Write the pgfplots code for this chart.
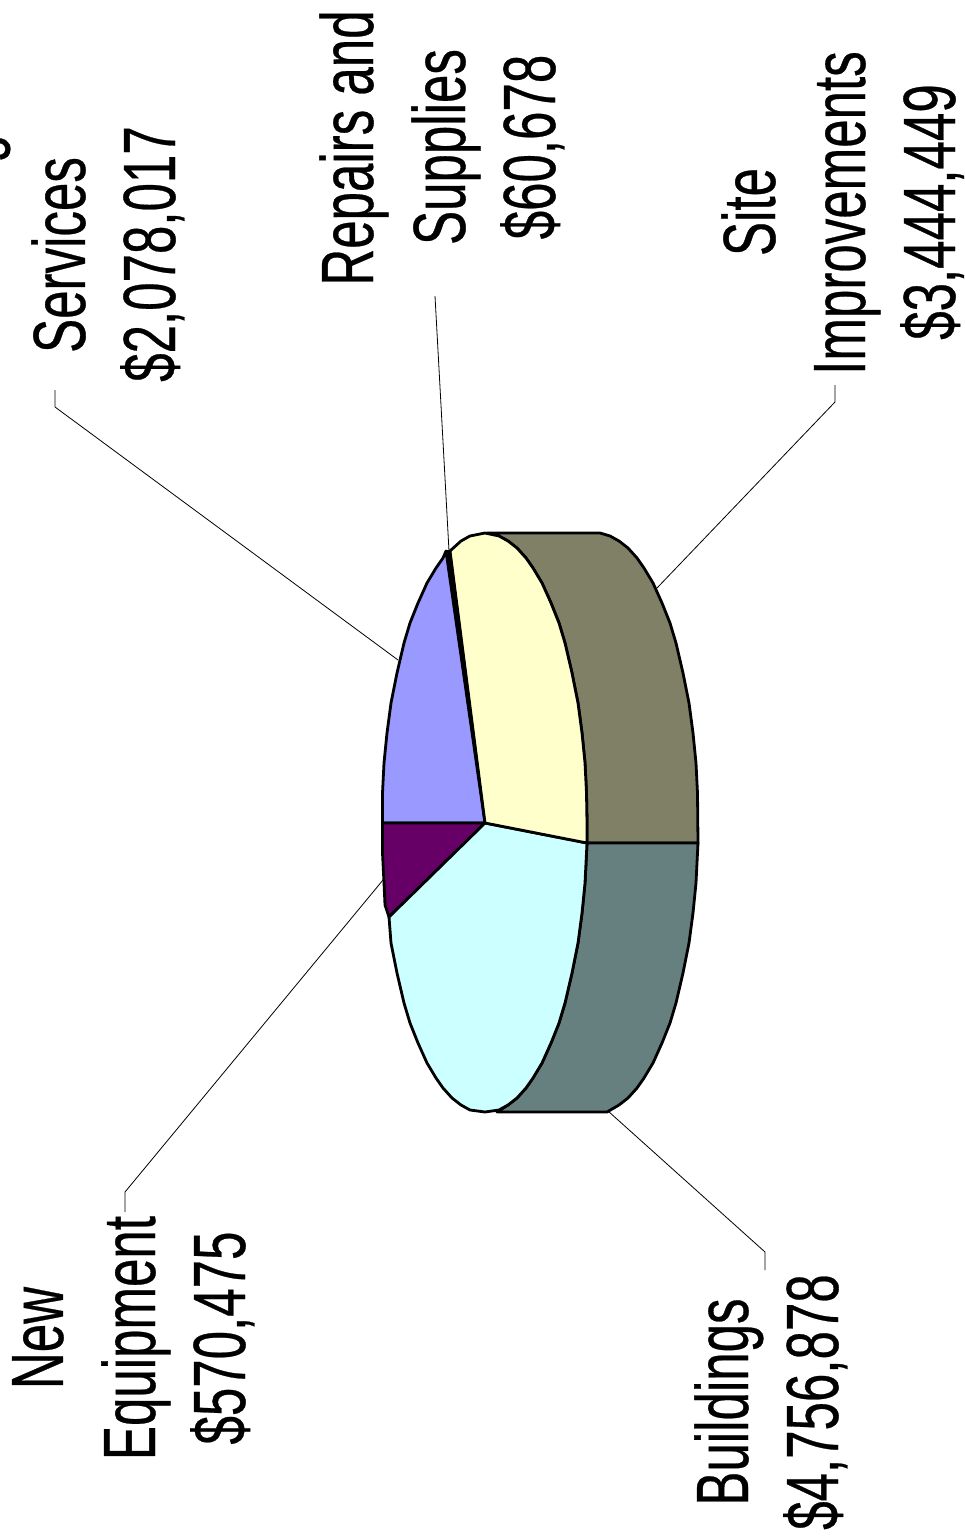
\documentclass[border=0pt]{standalone}
\usepackage{fontspec}
\setmainfont[FakeBold=0.5]{Liberation Sans}
\usepackage{graphicx}
\usepackage{pgfplots}
\pgfplotsset{compat=1.18}
\definecolor{slicecyan}{HTML}{CCFFFF}
\definecolor{sliceyellow}{HTML}{FFFFCC}
\definecolor{sliceblue}{HTML}{9999FF}
\definecolor{slicepurple}{HTML}{660066}
\definecolor{sideolive}{HTML}{808066}
\definecolor{sideteal}{HTML}{668080}
% rotated label, x = baseline, y = middle of the line
\newcommand{\lab}[3]{\node[rotate=90,anchor=base,inner sep=0pt] at (axis cs:#1,#2)
  {\fontsize{74}{74}\selectfont\scalebox{0.69}[1]{#3}};}
\begin{document}
\begin{tikzpicture}
\path[use as bounding box] (0,0) rectangle (964pt,1538pt);
\clip (0,0) rectangle (964pt,1538pt);
\begin{axis}[
    scale only axis,
    width=964pt,
    height=1538pt,
    xmin=0, xmax=964,
    ymin=0, ymax=1538,
    y dir=reverse,
    hide axis,
    clip=false,
    every axis plot/.append style={line join=round},
]
% leader lines
\addplot[black,line width=0.8pt] coordinates {(55,390) (55,407) (398,660)};
\addplot[black,line width=0.8pt] coordinates {(435,296) (449,551)};
\addplot[black,line width=0.8pt] coordinates {(835,385) (835,402) (657,588)};
\addplot[black,line width=0.8pt] coordinates {(125,1212) (125,1192) (383,880)};
\addplot[black,line width=0.8pt] coordinates {(765,1270) (765,1252) (608,1111)};
% sides
\addplot[fill=sideolive,draw=black,line width=2.8pt] coordinates {
 (487,533) (600,533) (610,536) (619,541) (628,548) (637,558) (644,568) (653,583)
 (662,603) (670,623) (676,643) (683,673) (689,703) (693,733) (696,763) (697.5,793)
 (698,843) (587,843) (587,823) (586.5,793) (585,763) (582,733) (578,703) (572,673)
 (565,643) (559,623) (551,603) (542,583) (533,568) (526,558) (517,548) (508,541) (499,536)
} --cycle;
\addplot[fill=sideteal,draw=black,line width=2.8pt] coordinates {
 (587,843) (698,843) (697.5,853) (696,883) (693,913) (689,943) (683,973) (676,1003)
 (670,1023) (662,1043) (653,1063) (644,1078) (637,1088) (628,1098) (619,1105)
 (607,1112) (497,1112) (508,1105) (517,1098) (526,1088) (533,1078) (542,1063)
 (551,1043) (559,1023) (565,1003) (572,973) (578,943) (582,913) (585,883) (586.5,853)
} --cycle;
% top slices
\addplot[fill=sliceblue,draw=black,line width=2.8pt] coordinates {
 (485,823) (382.5,823) (382.5,793) (384,763) (387,733) (391,703) (397,673) (404,643)
 (410,623) (418,603) (427,583) (436,568) (443,558) (446,551)
} --cycle;
\addplot[fill=slicepurple,draw=black,line width=2.8pt] coordinates {
 (485,823) (389,917) (385,905) (384,883) (382.5,853) (382.5,823)
} --cycle;
\addplot[fill=slicecyan,draw=black,line width=2.8pt] coordinates {
 (485,823) (587,843) (586.5,853) (585,883) (582,913) (578,943) (572,973) (565,1003)
 (559,1023) (551,1043) (542,1063) (533,1078) (526,1088) (517,1098) (508,1105)
 (499,1110) (485,1112) (470,1110) (461,1105) (452,1098) (443,1088) (436,1078)
 (427,1063) (418,1043) (410,1023) (404,1003) (397,973) (391,943) (389,917)
} --cycle;
\addplot[fill=sliceyellow,draw=black,line width=2.8pt] coordinates {
 (485,823) (450,551) (461,541) (470,536) (485,533) (499,536) (508,541) (517,548)
 (526,558) (533,568) (542,583) (551,603) (559,623) (565,643) (572,673) (578,703)
 (582,733) (585,763) (586.5,793) (587,823) (587,843)
} --cycle;
\addplot[fill=black,draw=black,line width=1.8pt] coordinates {
 (485,823) (446,551) (450,551)
} --cycle;
% labels
\lab{-5}{255}{Consulting}
\lab{85}{255}{Services}
\lab{175}{254}{\$2,078,017}
\lab{373}{148}{Repairs and}
\lab{465}{147}{Supplies}
\lab{555}{147}{\$60,678}
\lab{775}{212}{Site}
\lab{865}{213}{Improvements}
\lab{955}{212}{\$3,444,449}
\lab{63}{1338}{New}
\lab{155}{1338}{Equipment}
\lab{245}{1338}{\$570,475}
\lab{748}{1402}{Buildings}
\lab{838}{1402}{\$4,756,878}
\end{axis}
\end{tikzpicture}
\end{document}
